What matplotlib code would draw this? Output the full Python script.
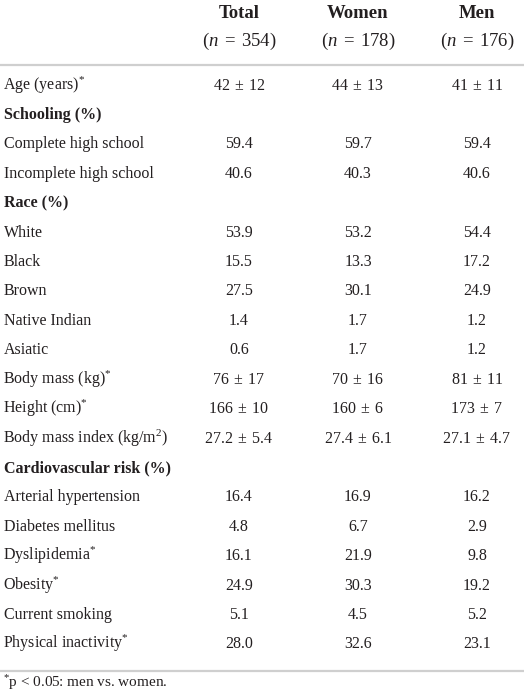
import matplotlib
matplotlib.use("Agg")
import matplotlib.pyplot as plt

plt.rcParams['font.family'] = ['Liberation Serif', 'DejaVu Serif']
plt.rcParams['mathtext.fontset'] = 'custom'
plt.rcParams['mathtext.rm'] = 'Liberation Serif'
plt.rcParams['mathtext.it'] = 'Liberation Serif:italic'
plt.rcParams['mathtext.bf'] = 'Liberation Serif:bold'

col_names = ["Total", "Women", "Men"]
col_n = ["354", "178", "176"]

row_labels = [
    "Age (years)$^{*}$", "Schooling (%)", "Complete high school", "Incomplete high school",
    "Race (%)", "White", "Black", "Brown", "Native Indian", "Asiatic",
    "Body mass (kg)$^{*}$", "Height (cm)$^{*}$", "Body mass index (kg/m$^{2}$)",
    "Cardiovascular risk (%)", "Arterial hypertension", "Diabetes mellitus",
    "Dyslipidemia$^{*}$", "Obesity$^{*}$", "Current smoking", "Physical inactivity$^{*}$",
]
section_rows = ["Schooling (%)", "Race (%)", "Cardiovascular risk (%)"]

total = ["42 ± 12", "", "59.4", "40.6", "", "53.9", "15.5", "27.5", "1.4", "0.6",
         "76 ± 17", "166 ± 10", "27.2 ± 5.4", "", "16.4", "4.8", "16.1", "24.9", "5.1", "28.0"]
women = ["44 ± 13", "", "59.7", "40.3", "", "53.2", "13.3", "30.1", "1.7", "1.7",
         "70 ± 16", "160 ± 6", "27.4 ± 6.1", "", "16.9", "6.7", "21.9", "30.3", "4.5", "32.6"]
men = ["41 ± 11", "", "59.4", "40.6", "", "54.4", "17.2", "24.9", "1.2", "1.2",
       "81 ± 11", "173 ± 7", "27.1 ± 4.7", "", "16.2", "2.9", "9.8", "19.2", "5.2", "23.1"]

footnote = "$^{*}$p < 0.05: men vs. women."

W, H = 524, 693
fig = plt.figure(figsize=(W / 100, H / 100), dpi=100)
ax = fig.add_axes([0, 0, 1, 1])
ax.set_xlim(0, W)
ax.set_ylim(H, 0)
ax.axis('off')

tc = '#231f20'
col_x = [239, 358, 477]
fs = 11.5
hfs = 13.5

for x, name, n in zip(col_x, col_names, col_n):
    ax.text(x, 18.5, name, ha='center', va='baseline', fontsize=hfs, fontweight='bold', color=tc)
    ax.text(x, 46, r"$(n\;=\;" + n + r")$", ha='center', va='baseline', fontsize=hfs, color=tc)

rule_c = '#cfcfcf'
ax.plot([0, W], [65, 65], color=rule_c, lw=1.6, solid_capstyle='butt')
ax.plot([0, W], [671, 671], color=rule_c, lw=1.6, solid_capstyle='butt')


def fmt(v):
    if "±" in v:
        return "$" + v.replace(" ± ", r"\;\pm\;") + "$"
    return v


y0 = 84
step = (643 - 84) / (len(row_labels) - 1)
for i, lab in enumerate(row_labels):
    yb = y0 + i * step + 5.5
    bold = lab in section_rows
    lx = 3 if "$" in lab else 4
    ax.text(lx, yb, lab, ha='left', va='baseline', fontsize=fs, color=tc,
            fontweight='bold' if bold else 'normal')
    for x, vals in zip(col_x, [total, women, men]):
        if vals[i]:
            ax.text(x, yb, fmt(vals[i]), ha='center', va='baseline', fontsize=fs, color=tc)

ax.text(3, 687, footnote, ha='left', va='baseline', fontsize=11, color=tc)

fig.savefig("out.png", dpi=100)
